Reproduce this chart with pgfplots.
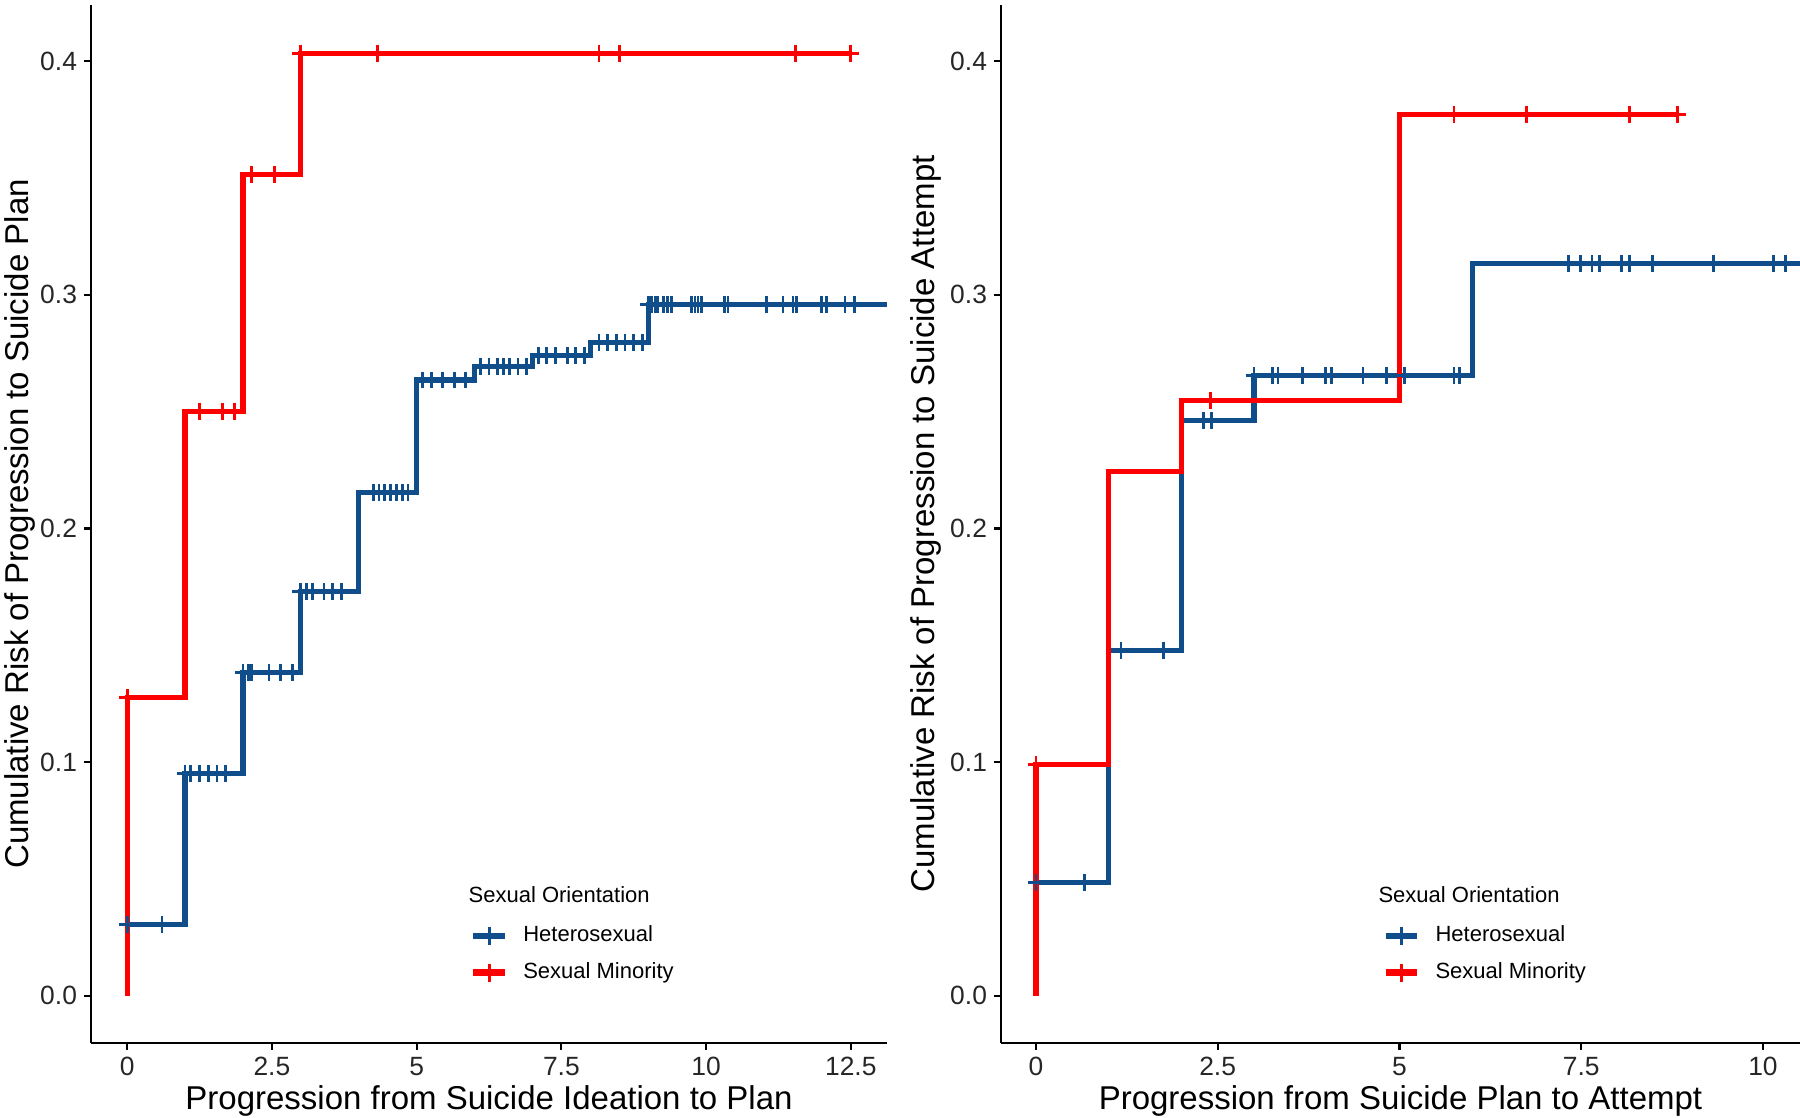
\documentclass[border=0pt]{standalone}
\usepackage{fontspec}
\setmainfont{Liberation Sans}
\usepackage{pgfplots}
\pgfplotsset{compat=1.18}
\definecolor{hetblue}{HTML}{104E8B}
\definecolor{minred}{HTML}{FF0000}

\pgfplotsset{
  kmaxis/.style={
    scale only axis,
    anchor=south west,
    height=519pt,
    ymin=-0.0202, ymax=0.424,
    axis x line*=bottom, axis y line*=left,
    axis line style={-, line width=1.1pt, black},
    tick align=outside, major tick length=3.5pt,
    tick style={line width=1.1pt, black},
    ytick={0,0.1,0.2,0.3,0.4},
    yticklabel style={/pgf/number format/fixed, /pgf/number format/fixed zerofill,
      /pgf/number format/precision=1, font=\fontsize{13.2}{15}\selectfont, text=black!85},
    xticklabel style={font=\fontsize{13.2}{15}\selectfont, text=black!85},
    /pgf/number format/assume math mode=true,
    label style={font=\fontsize{16.5}{19}\selectfont},
    xlabel style={anchor=base, at={(axis description cs:0.5,-0.0645)}},
    legend cell align=left,
    legend style={draw=none, fill=none, inner sep=0pt, anchor=north west,
      font=\fontsize{11}{13}\selectfont, row sep=7.8pt, column sep=7.5pt,
      nodes={inner sep=0pt, text height=8pt, text depth=2.5pt}},
    legend image code/.code={
      \draw[line width=3.2pt] (0pt,0pt) -- (15.8pt,0pt);
      \draw[line width=1.3pt] (7.9pt,-4.5pt) -- (7.9pt,4.5pt);},
  },
  kmline/.style={const plot, line width=2.6pt, mark=none},
  kmcens/.style={only marks, mark=+, mark size=4.2pt, mark options={line width=1.4pt}, forget plot},
}

\begin{document}
\begin{tikzpicture}
\path[use as bounding box] (0,0) rectangle (900pt,559pt);

% left panel: ideation -> plan
\begin{axis}[kmaxis,
  at={(45.5pt,37.5pt)}, width=398pt,
  xmin=-0.625, xmax=13.125,
  xtick={0,2.5,5,7.5,10,12.5},
  xlabel={Progression from Suicide Ideation to Plan},
  ylabel={Cumulative Risk of Progression to Suicide Plan},
  ylabel style={at={(axis description cs:-0.089,0.5)}, anchor=center},
  legend style={at={(0.476,0.1135)}},
]
\addplot[kmline, hetblue] coordinates {
  (0,0) (0,0.0306) (1,0.0951) (2,0.1384) (3,0.1731) (4,0.2154) (5,0.2635)
  (6,0.2692) (7,0.2740) (8,0.2796) (9,0.2959) (13.125,0.2959)};
\addlegendentry{Heterosexual}
\addplot[kmline, minred] coordinates {
  (0,0) (0,0.1276) (1,0.2501) (2,0.3516) (3,0.4034) (12.5,0.4034)};
\addlegendentry{Sexual Minority}
\addplot[kmcens, hetblue] coordinates {
  (0,0.0306) (0.6,0.0306)
  (1.0,0.0951) (1.1,0.0951) (1.25,0.0951) (1.4,0.0951) (1.55,0.0951) (1.7,0.0951)
  (2.0,0.1384) (2.1,0.1384) (2.15,0.1384) (2.45,0.1384) (2.65,0.1384) (2.85,0.1384)
  (3.0,0.1731) (3.1,0.1731) (3.2,0.1731) (3.4,0.1731) (3.55,0.1731) (3.7,0.1731)
  (4.25,0.2154) (4.35,0.2154) (4.45,0.2154) (4.55,0.2154) (4.65,0.2154) (4.75,0.2154) (4.85,0.2154)
  (5.1,0.2635) (5.25,0.2635) (5.45,0.2635) (5.65,0.2635) (5.85,0.2635)
  (6.1,0.2692) (6.25,0.2692) (6.4,0.2692) (6.5,0.2692) (6.6,0.2692) (6.75,0.2692) (6.9,0.2692)
  (7.1,0.2740) (7.25,0.2740) (7.4,0.2740) (7.6,0.2740) (7.75,0.2740) (7.9,0.2740)
  (8.15,0.2796) (8.3,0.2796) (8.45,0.2796) (8.6,0.2796) (8.75,0.2796) (8.9,0.2796)
  (9.0,0.2959) (9.06,0.2959) (9.12,0.2959) (9.17,0.2959) (9.26,0.2959) (9.34,0.2959) (9.4,0.2959)
  (9.75,0.2959) (9.81,0.2959) (9.86,0.2959) (9.92,0.2959) (10.32,0.2959) (10.38,0.2959)
  (11.04,0.2959) (11.33,0.2959) (11.5,0.2959) (11.56,0.2959) (11.99,0.2959) (12.08,0.2959)
  (12.4,0.2959) (12.57,0.2959)};
\addplot[kmcens, minred] coordinates {
  (0,0.1276) (1.25,0.2501) (1.65,0.2501) (1.85,0.2501) (2.15,0.3516) (2.55,0.3516)
  (3.0,0.4034) (4.33,0.4034) (8.15,0.4034) (8.5,0.4034) (11.55,0.4034) (12.5,0.4034)};
\node[anchor=west, inner sep=0pt, font=\fontsize{11}{13}\selectfont]
  at (axis description cs:0.474,0.1426) {Sexual Orientation};
\end{axis}

% right panel: plan -> attempt
\begin{axis}[kmaxis,
  at={(500.5pt,37.5pt)}, width=399.5pt,
  xmin=-0.48, xmax=10.51,
  xtick={0,2.5,5,7.5,10},
  xlabel={Progression from Suicide Plan to Attempt},
  ylabel={Cumulative Risk of Progression to Suicide Attempt},
  ylabel style={at={(axis description cs:-0.0939,0.5)}, anchor=center},
  legend style={at={(0.477,0.1135)}},
]
\addplot[kmline, hetblue] coordinates {
  (0,0) (0,0.0485) (1,0.1479) (2,0.2462) (3,0.2653) (6,0.3134) (10.51,0.3134)};
\addlegendentry{Heterosexual}
\addplot[kmline, minred] coordinates {
  (0,0) (0,0.0990) (1,0.2242) (2,0.2546) (5,0.3770) (8.85,0.3770)};
\addlegendentry{Sexual Minority}
\addplot[kmcens, hetblue] coordinates {
  (0,0.0485) (0.67,0.0485) (1.17,0.1479) (1.76,0.1479) (2.31,0.2462) (2.42,0.2462)
  (3.0,0.2653) (3.25,0.2653) (3.33,0.2653) (3.67,0.2653) (3.98,0.2653) (4.07,0.2653)
  (4.5,0.2653) (4.82,0.2653) (5.07,0.2653) (5.75,0.2653) (5.83,0.2653)
  (7.33,0.3134) (7.49,0.3134) (7.65,0.3134) (7.75,0.3134) (8.05,0.3134) (8.17,0.3134)
  (8.48,0.3134) (9.32,0.3134) (10.15,0.3134) (10.31,0.3134)};
\addplot[kmcens, minred] coordinates {
  (0,0.0990) (2.4,0.2546) (5.75,0.3770) (6.75,0.3770) (8.17,0.3770) (8.83,0.3770)};
\node[anchor=west, inner sep=0pt, font=\fontsize{11}{13}\selectfont]
  at (axis description cs:0.472,0.1426) {Sexual Orientation};
\end{axis}
\end{tikzpicture}
\end{document}
